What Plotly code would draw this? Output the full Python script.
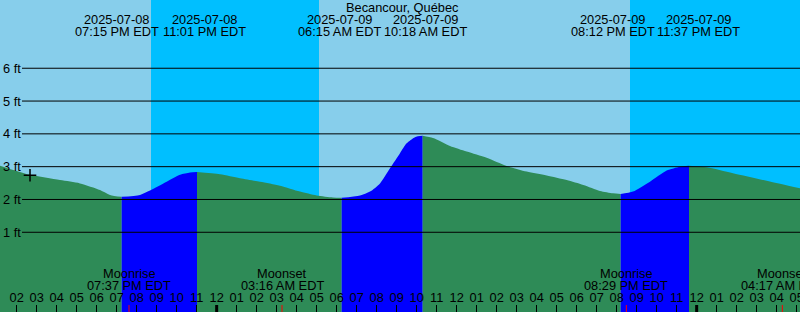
import plotly.graph_objects as go

# ---------------- data ----------------
title_text = "Becancour, Québec"

tide_times = [
    "2025-07-08 13:10", "2025-07-08 14:40", "2025-07-08 16:10", "2025-07-08 17:10",
    "2025-07-08 18:10", "2025-07-08 18:40", "2025-07-08 19:15",
    "2025-07-08 20:10", "2025-07-08 20:40", "2025-07-08 21:30", "2025-07-08 22:10",
    "2025-07-08 22:40", "2025-07-08 23:01",
    "2025-07-09 00:10", "2025-07-09 01:10", "2025-07-09 02:10", "2025-07-09 03:10",
    "2025-07-09 04:10", "2025-07-09 05:00", "2025-07-09 05:49", "2025-07-09 06:15",
    "2025-07-09 07:10", "2025-07-09 07:40", "2025-07-09 08:10", "2025-07-09 08:40",
    "2025-07-09 09:10", "2025-07-09 09:30", "2025-07-09 09:55", "2025-07-09 10:18",
    "2025-07-09 10:49", "2025-07-09 11:40", "2025-07-09 12:30", "2025-07-09 13:30",
    "2025-07-09 14:30", "2025-07-09 15:30", "2025-07-09 16:30", "2025-07-09 17:30",
    "2025-07-09 18:20", "2025-07-09 19:10", "2025-07-09 19:49", "2025-07-09 20:12",
    "2025-07-09 20:49", "2025-07-09 21:40", "2025-07-09 22:30", "2025-07-09 23:10",
    "2025-07-09 23:37",
    "2025-07-10 00:30", "2025-07-10 01:49", "2025-07-10 03:30", "2025-07-10 05:10",
]
tide_levels = [
    3.03, 2.75, 2.59, 2.49,
    2.29, 2.14, 2.08,
    2.14, 2.27, 2.54, 2.75,
    2.82, 2.84,
    2.77, 2.65, 2.54, 2.42,
    2.24, 2.12, 2.06, 2.05,
    2.12, 2.24, 2.49, 2.95,
    3.41, 3.71, 3.90, 3.94,
    3.87, 3.63, 3.46, 3.27,
    3.02, 2.85, 2.73, 2.59,
    2.44, 2.26, 2.19, 2.17,
    2.24, 2.54, 2.88, 3.00,
    3.03,
    2.98, 2.80, 2.57, 2.34,
]

event_times = ["2025-07-08 19:15", "2025-07-08 23:01", "2025-07-09 06:15",
               "2025-07-09 10:18", "2025-07-09 20:12", "2025-07-09 23:37",
               "2025-07-10 06:49"]
event_dates = ["2025-07-08", "2025-07-08", "2025-07-09", "2025-07-09",
               "2025-07-09", "2025-07-09", "2025-07-10"]
event_clock = ["07:15 PM EDT", "11:01 PM EDT", "06:15 AM EDT", "10:18 AM EDT",
               "08:12 PM EDT", "11:37 PM EDT", "06:49 AM EDT"]

sunset_times = ["2025-07-08 20:43", "2025-07-09 20:40"]
sunrise_times = ["2025-07-09 05:07", "2025-07-10 05:11"]

moon_times = ["2025-07-08 19:37", "2025-07-09 03:16", "2025-07-09 20:29", "2025-07-10 04:17"]
moon_names = ["Moonrise", "Moonset", "Moonrise", "Moonset"]
moon_clock = ["07:37 PM EDT", "03:16 AM EDT", "08:29 PM EDT", "04:17 AM EDT"]

midnights = ["2025-07-09 00:00", "2025-07-10 00:00"]

level_ticks = [1, 2, 3, 4, 5, 6]
level_labels = ["1 ft", "2 ft", "3 ft", "4 ft", "5 ft", "6 ft"]

now_time = ["2025-07-08 14:40"]
now_level = [2.74]

x_range = ["2025-07-08 13:10", "2025-07-10 05:10"]
y_range = [-1.43, 8.08]

# ---------------- style ----------------
W, H = 800, 312
DAY = "#87CEEB"
NIGHT = "#00BFFF"
FALL = "#2E8B57"
RISE = "#0000FF"
FONT = "Liberation Sans, Arial, sans-serif"
FS = 12.8
label_nudge = [-5, 7, -2, 3, -8, 9, 0]   # px, overlap avoidance of tide labels

fig = go.Figure()

# tide fills, split at extremes
ext_idx = [tide_times.index(t) for t in event_times if t in tide_times]
bounds = [0] + ext_idx + [len(tide_times) - 1]
base = y_range[0] - 1
for a, b in zip(bounds[:-1], bounds[1:]):
    sx = tide_times[a:b + 1]
    sy = tide_levels[a:b + 1]
    color = RISE if sy[-1] > sy[0] else FALL
    fig.add_trace(go.Scatter(x=[sx[0], sx[-1]], y=[base, base], mode="lines",
                             line=dict(width=0), hoverinfo="skip", showlegend=False))
    fig.add_trace(go.Scatter(x=sx, y=sy, mode="lines",
                             line=dict(width=0, shape="spline", smoothing=0.7),
                             fill="tonexty", fillcolor=color,
                             hoverinfo="skip", showlegend=False))

# current-time marker
fig.add_trace(go.Scatter(x=now_time, y=now_level, mode="markers",
                         marker=dict(symbol="cross-thin", size=9,
                                     line=dict(color="black", width=1.5)),
                         hoverinfo="skip", showlegend=False))

shapes = []
# night backgrounds
for s, r in zip(sunset_times, sunrise_times):
    shapes.append(dict(type="rect", xref="x", yref="paper", x0=s, x1=r, y0=0, y1=1,
                       fillcolor=NIGHT, line=dict(width=0), layer="below"))
# level lines
for lv in level_ticks:
    shapes.append(dict(type="line", xref="paper", yref="y", x0=22 / W, x1=1, y0=lv, y1=lv,
                       line=dict(color="black", width=1), layer="above"))
# midnight ticks
for m in midnights:
    shapes.append(dict(type="line", xref="x", yref="paper", x0=m, x1=m, y0=0, y1=7 / H,
                       line=dict(color="black", width=3), layer="above"))
# moon event ticks
for m in moon_times:
    shapes.append(dict(type="line", xref="x", yref="paper", x0=m, x1=m, y0=0, y1=7 / H,
                       line=dict(color="red", width=1), layer="above"))

ann = []
ann.append(dict(text=title_text, xref="paper", yref="paper", x=0.5, y=1,
                xanchor="center", yanchor="middle", yshift=-7.5, xshift=2, showarrow=False))
# tide event labels (in range)
x_end = x_range[1]
for t, d, c, nud in zip(event_times, event_dates, event_clock, label_nudge):
    if t > x_end:
        continue
    ann.append(dict(text=d, xref="x", yref="paper", x=t, y=1, xanchor="center",
                    yanchor="middle", yshift=-19.5, xshift=nud, showarrow=False))
    ann.append(dict(text=c, xref="x", yref="paper", x=t, y=1, xanchor="center",
                    yanchor="middle", yshift=-31.8, xshift=nud, showarrow=False))
# moon labels
for t, n, c in zip(moon_times, moon_names, moon_clock):
    ann.append(dict(text=n, xref="x", yref="paper", x=t, y=0, xanchor="center",
                    yanchor="middle", yshift=H - 273.8, showarrow=False))
    ann.append(dict(text=c, xref="x", yref="paper", x=t, y=0, xanchor="center",
                    yanchor="middle", yshift=H - 285.2, showarrow=False))
# level labels
for lv, lab in zip(level_ticks, level_labels):
    ann.append(dict(text=lab, xref="paper", yref="y", x=0, y=lv, xanchor="left",
                    yanchor="middle", xshift=1, showarrow=False))

# tide event labels beyond the visible range (drawn as text so they can be partly visible)
off_t = [t for t in event_times if t > x_end]
off_d = [d for t, d in zip(event_times, event_dates) if t > x_end]
off_c = [c for t, c in zip(event_times, event_clock) if t > x_end]
if off_t:
    y_date = y_range[1] - (19.5 / H) * (y_range[1] - y_range[0])
    y_clock = y_range[1] - (31.8 / H) * (y_range[1] - y_range[0])
    fig.add_trace(go.Scatter(x=off_t, y=[y_date] * len(off_t), mode="text", text=off_d,
                             textposition="middle center", cliponaxis=False,
                             textfont=dict(family=FONT, size=FS, color="black"),
                             hoverinfo="skip", showlegend=False))
    fig.add_trace(go.Scatter(x=off_t, y=[y_clock] * len(off_t), mode="text", text=off_c,
                             textposition="middle center", cliponaxis=False,
                             textfont=dict(family=FONT, size=FS, color="black"),
                             hoverinfo="skip", showlegend=False))

fig.update_layout(
    width=W, height=H,
    margin=dict(l=0, r=0, t=0, b=0, pad=0, autoexpand=False),
    paper_bgcolor=DAY, plot_bgcolor=DAY,
    font=dict(family=FONT, size=FS, color="black"),
    shapes=shapes, annotations=ann,
    hovermode=False, showlegend=False,
    xaxis=dict(type="date", range=x_range, showgrid=False, zeroline=False, showline=False,
               automargin=False,
               ticks="inside", ticklen=7, tickwidth=1, tickcolor="black",
               tick0="2025-07-08 00:00", dtick=3600000, tickformat="%I",
               ticklabelposition="inside", ticklabeloverflow="allow",
               ticklabelstandoff=0,
               tickfont=dict(family=FONT, size=FS, color="black")),
    yaxis=dict(range=y_range, showgrid=False, zeroline=False, showline=False,
               automargin=False, showticklabels=False, ticks=""),
)

fig.write_html("out.html")
